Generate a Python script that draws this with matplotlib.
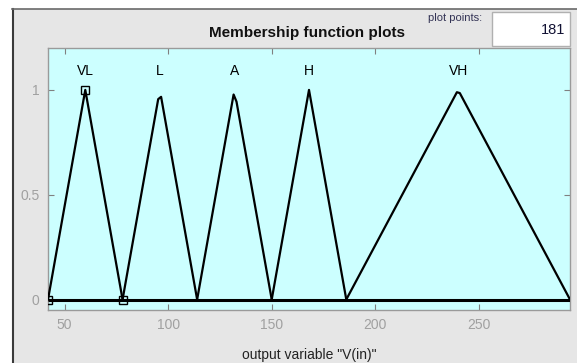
import matplotlib
matplotlib.use("Agg")
import matplotlib.pyplot as plt
from matplotlib.patches import Rectangle
from matplotlib.lines import Line2D

# ---- data ----
x_range = [42, 294]
mf_names = ["VL", "L", "A", "H", "VH"]
mf_x = [
    [42, 60, 78],
    [78, 95.2, 96.6, 114],
    [114, 131.6, 133.0, 150],
    [150, 168, 186],
    [186, 239.4, 240.8, 294],
]
mf_y = [
    [0, 1.0, 0],
    [0, 0.956, 0.967, 0],
    [0, 0.978, 0.944, 0],
    [0, 1.0, 0],
    [0, 0.989, 0.985, 0],
]
label_x = [60, 96, 132, 168, 240]
label_y = 1.09
selected_x = [42, 60, 78]
selected_y = [0, 1, 0]
x_ticks = [50, 100, 150, 200, 250]
y_ticks = [0, 0.5, 1]
y_tick_labels = ["0", "0.5", "1"]
plot_points = "181"

FONT = ["Liberation Sans Narrow", "Liberation Sans", "DejaVu Sans"]
plt.rcParams["font.family"] = FONT

fig = plt.figure(figsize=(5.77, 3.63), dpi=100)
fig.patch.set_facecolor("white")

W, H = 577, 363
def fx(px):
    return px / W
def fy(py):
    return 1 - py / H

# gray panel with dark border at left and top
panel = Rectangle((fx(12), 0), 1 - fx(12), fy(9), transform=fig.transFigure,
                  facecolor="#E6E6E6", edgecolor="none", zorder=-2)
fig.patches.append(panel)
fig.add_artist(Line2D([fx(12.5), fx(12.5)], [0, fy(9)], transform=fig.transFigure,
                      color="#3A3A3A", lw=1.5, zorder=-1))
fig.add_artist(Line2D([fx(12), 1], [fy(9), fy(9)], transform=fig.transFigure,
                      color="#6A6A6A", lw=1.2, zorder=-1))

ax = fig.add_axes([fx(48), fy(310), fx(570) - fx(48), fy(48) - fy(310)])
ax.set_zorder(1)
ax.set_facecolor("#CCFFFF")
ax.set_xlim(x_range)
ax.set_ylim(-0.05, 1.2)

# zero line across the range
ax.plot(x_range, [0, 0], color="black", lw=2.2, solid_capstyle="butt", zorder=3)
for xs, ys in zip(mf_x, mf_y):
    ax.plot(xs, ys, color="black", lw=1.6, zorder=3)
ax.plot(selected_x, selected_y, linestyle="none", marker="s", markersize=6,
        markerfacecolor="none", markeredgecolor="black", markeredgewidth=1.0,
        zorder=4, clip_on=True)
for name, lx in zip(mf_names, label_x):
    ax.text(lx, label_y, name, ha="center", va="center", fontsize=10, color="black",
            family=FONT)

ax.set_xticks(x_ticks)
ax.set_yticks(y_ticks)
ax.set_yticklabels(y_tick_labels)
ax.tick_params(direction="in", length=4, width=0.8, color="#808080",
               labelcolor="#A0A0A0", labelsize=10, top=True, right=True, pad=6)
for s in ax.spines.values():
    s.set_color("#9A9A9A")
    s.set_linewidth(1.0)

ax.set_xlabel('output variable "V(in)"', fontsize=10, color="#222222", labelpad=11)

fig.text(fx(307), fy(33), "Membership function plots", ha="center", va="center",
         fontsize=11, fontweight="bold", color="#111111", family=FONT, zorder=2)
fig.text(fx(455), fy(18), "plot points:", ha="center", va="center",
         fontsize=8, color="#333355", family=FONT, zorder=2)
box = Rectangle((fx(492), fy(46)), fx(570) - fx(492), fy(12) - fy(46),
                transform=fig.transFigure, facecolor="white", edgecolor="#B0B0B0",
                lw=1.0, zorder=1)
fig.patches.append(box)
fig.text(fx(565), fy(30), plot_points, ha="right", va="center", fontsize=10.5,
         color="#111133", family=FONT, zorder=2)

fig.savefig("out.png", dpi=100, facecolor=fig.get_facecolor())
